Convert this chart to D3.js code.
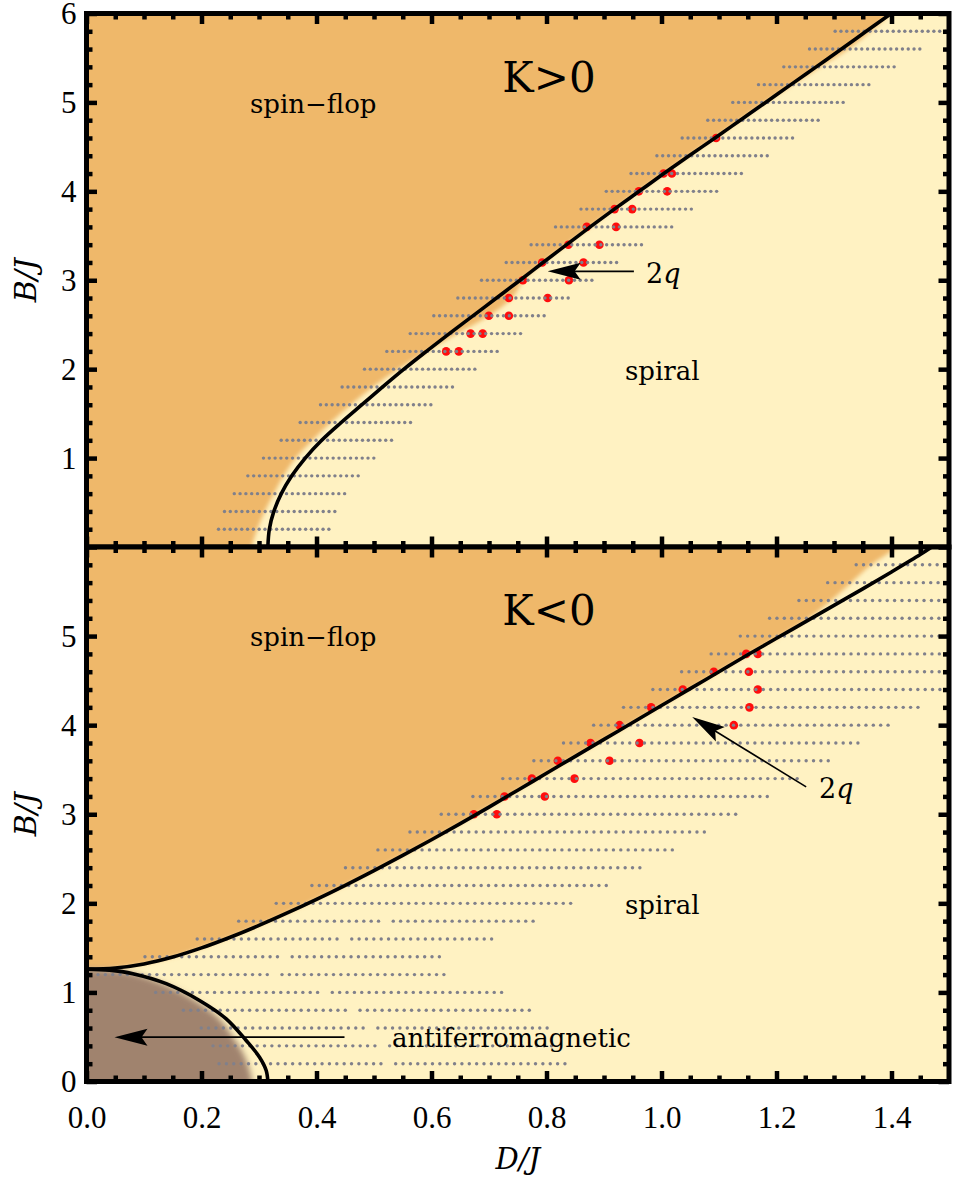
<!DOCTYPE html>
<html>
<head>
<meta charset="utf-8">
<script src="https://cdn.jsdelivr.net/npm/d3@7"></script>
<style>
  body { margin: 0; background: #fff; }
</style>
</head>
<body>
<div id="chart"></div>
<script>
// ---- K>0 panel ----
// phase boundary (black curve)  [D/J, B/J]
var topLine = [[0.3154,0],[0.318,0.2],[0.3258,0.4],[0.3388,0.6],[0.357,0.8],[0.3804,1.0],[0.409,1.2],
  [0.443,1.4],[0.479,1.6],[0.515,1.8],[0.552,2.0],[0.591,2.2],[0.631,2.4],[0.672,2.6],[0.713,2.8],
  [0.754,3.0],[0.794,3.2],[0.835,3.4],[0.876,3.6],[0.918,3.8],[0.961,4.0],[1.004,4.2],[1.048,4.4],
  [1.093,4.6],[1.137,4.8],[1.181,5.0],[1.225,5.2],[1.269,5.4],[1.313,5.6],[1.356,5.8],[1.3995,6.0]];
// edge of the spin-flop colour region
var topEdge = [[0.287,0],[0.297,0.2],[0.31,0.4],[0.326,0.6],[0.343,0.8],[0.364,1.0],[0.393,1.2],
  [0.425,1.4],[0.46,1.6],[0.498,1.8],[0.542,2.0],[0.592,2.2],[0.645,2.4],[0.700,2.6],[0.740,2.8],
  [0.760,3.0],[0.794,3.2],[0.835,3.4],[0.876,3.6],[0.918,3.8],[0.961,4.0],[1.004,4.2],[1.048,4.4],
  [1.093,4.6],[1.137,4.8],[1.181,5.0],[1.228,5.2],[1.276,5.4],[1.325,5.6],[1.364,5.8],[1.3995,6.0]];
// scanned rows  [B/J, first D/J, last D/J]
var topRows = [[0.2,0.2296,0.4214],[0.4,0.240,0.433],[0.6,0.257,0.450],[0.8,0.2806,0.4736],
  [1.0,0.3078,0.5003],[1.2,0.3386,0.5316],[1.4,0.3716,0.5646],[1.6,0.407,0.6005],[1.8,0.4446,0.637],
  [2.0,0.4835,0.676],[2.2,0.5223,0.7143],[2.4,0.563,0.756],[2.6,0.604,0.7965],[2.8,0.6458,0.8388],
  [3.0,0.687,0.880],[3.2,0.73,0.924],[3.4,0.7733,0.9658],[3.6,0.8157,1.0197],[3.8,0.860,1.053],
  [4.0,0.904,1.097],[4.2,0.947,1.14],[4.4,0.992,1.185],[4.6,1.036,1.228],[4.8,1.0805,1.2736],
  [5.0,1.124,1.317],[5.2,1.1687,1.3617],[5.4,1.2127,1.405],[5.6,1.2574,1.4516],[5.8,1.302,1.495]];
// 2q points  [D/J, B/J]
var topRed = [[0.6255,2.2],[0.6475,2.2],[0.668,2.4],[0.689,2.4],[0.6997,2.6],[0.7345,2.6],
  [0.7345,2.8],[0.802,2.8],[0.759,3.0],[0.839,3.0],[0.7925,3.2],[0.8643,3.2],[0.838,3.4],[0.892,3.4],
  [0.870,3.6],[0.921,3.6],[0.9183,3.8],[0.949,3.8],[0.9606,4.0],[1.0099,4.0],[1.0035,4.2],[1.018,4.2],
  [1.095,4.6]];

// ---- K<0 panel ----
var botLine = [[0,1.262],[0.05,1.2745],[0.10,1.3195],[0.15,1.397],[0.20,1.4995],[0.25,1.6195],
  [0.30,1.752],[0.35,1.8945],[0.40,2.0445],[0.45,2.202],[0.50,2.367],[0.55,2.538],[0.60,2.714],
  [0.65,2.894],[0.70,3.08],[0.75,3.27],[0.80,3.46],[0.85,3.65],[0.90,3.84],[0.95,4.03],[1.00,4.22],
  [1.05,4.41],[1.10,4.60],[1.15,4.79],[1.20,4.975],[1.25,5.16],[1.30,5.345],[1.35,5.53],[1.40,5.72],
  [1.45,5.915],[1.47,6.0]];
var botAfmLine = [[0,1.262],[0.04,1.25],[0.0806,1.21],[0.1386,1.098],[0.1965,0.91],[0.243,0.704],
  [0.2777,0.46],[0.3009,0.273],[0.3125,0.124],[0.3154,0]];
var botEdge = [[0,1.262],[0.05,1.2745],[0.10,1.3195],[0.15,1.397],[0.20,1.4995],[0.25,1.6195],
  [0.30,1.752],[0.35,1.8945],[0.40,2.0445],[0.45,2.202],[0.50,2.367],[0.55,2.538],[0.60,2.714],
  [0.65,2.894],[0.70,3.08],[0.75,3.27],[0.80,3.46],[0.85,3.65],[0.90,3.84],[0.95,4.03],[1.00,4.22],
  [1.05,4.41],[1.10,4.60],[1.15,4.79],[1.20,4.975],[1.25,5.17],[1.295,5.4],[1.33,5.6],[1.365,5.8],
  [1.41,6.0]];
var botAfmEdge = [[0,1.262],[0.06,1.24],[0.1,1.18],[0.14,1.08],[0.19,0.91],[0.232,0.70],
  [0.257,0.48],[0.276,0.27],[0.288,0]];
var botRows = [[0.2,0.2305,0.8334],[0.4,0.22,0.815],[0.6,0.1995,0.801],[0.8,0.1685,0.7687],
  [1.0,0.1203,0.7207],[1.2,0.02,0.627],[1.4,0.1017,0.619],[1.6,0.1925,0.7083],[1.8,0.2647,0.7805],
  [2.0,0.330,0.846],[2.2,0.392,0.9078],[2.4,0.4504,0.966],[2.6,0.5068,1.0247],[2.8,0.5625,1.077],
  [3.0,0.617,1.1316],[3.2,0.672,1.185],[3.4,0.724,1.238],[3.6,0.778,1.291],[3.8,0.8296,1.343],
  [4.0,0.882,1.3965],[4.2,0.934,1.447],[4.4,0.985,1.486],[4.6,1.035,1.495],[4.8,1.0864,1.495],
  [5.0,1.137,1.495],[5.2,1.188,1.495],[5.4,1.239,1.495],[5.6,1.289,1.495],[5.8,1.3386,1.495]];
// missing scan points  [B/J, D/J]
var botGaps = [[0.2,0.5296],[0.4,0.516],[0.6,0.495],[0.8,0.4677],[1.0,0.4195],[1.2,0.3267],
  [1.4,0.351],[1.6,0.4435],[1.8,0.516]];
var botRed = [[0.6736,3.0],[0.7136,3.0],[0.727,3.2],[0.797,3.2],[0.7745,3.4],[0.8487,3.4],
  [0.8197,3.6],[0.9096,3.6],[0.8765,3.8],[0.9617,3.8],[0.927,4.0],[1.1258,4.0],[0.982,4.2],[1.153,4.2],
  [1.037,4.4],[1.1675,4.4],[1.091,4.6],[1.152,4.6],[1.1473,4.8],[1.1675,4.8]];

// ticks
var xTicks = [0, 0.2, 0.4, 0.6, 0.8, 1.0, 1.2, 1.4];
var xTickLabels = ["0.0", "0.2", "0.4", "0.6", "0.8", "1.0", "1.2", "1.4"];
var topYLabels = [1, 2, 3, 4, 5, 6];
var botYLabels = [0, 1, 2, 3, 4, 5];

var topStep = 0.0101, botStep = 0.0128;

var width = 953, height = 1196;
var svg = d3.select("#chart").append("svg")
    .attr("width", width)
    .attr("height", height);

var x = d3.scaleLinear().domain([0, 1.5]).range([86.5, 949]);
var yTop = d3.scaleLinear().domain([0, 6]).range([547, 13.5]);
var yBot = d3.scaleLinear().domain([0, 6]).range([1081.5, 547]);

var colOrange = "#efb86b", colLight = "#fff2c2", colBrown = "#a0836e", colDot = "#80808b";

var defs = svg.append("defs");
defs.append("filter").attr("id", "soft")
    .attr("x", "-10%").attr("y", "-10%").attr("width", "120%").attr("height", "120%")
  .append("feGaussianBlur").attr("stdDeviation", 2.2);
defs.append("filter").attr("id", "softer")
    .attr("x", "-10%").attr("y", "-10%").attr("width", "120%").attr("height", "120%")
  .append("feGaussianBlur").attr("stdDeviation", 3.2);
[["clipTop", yTop], ["clipBot", yBot]].forEach(function(c) {
  defs.append("clipPath").attr("id", c[0]).append("rect")
      .attr("x", x(0)).attr("y", c[1](6))
      .attr("width", x(1.5) - x(0)).attr("height", c[1](0) - c[1](6));
});

// closed region: a smooth edge then straight corners
function region(y, edge, corners) {
  var l = d3.line().x(function(d) { return x(d[0]); }).y(function(d) { return y(d[1]); })
      .curve(d3.curveCatmullRom.alpha(0.5));
  var s = l(edge);
  corners.forEach(function(c) { s += "L" + x(c[0]) + "," + y(c[1]); });
  return s + "Z";
}

function rowDots(rows, step, gaps) {
  var pts = [];
  rows.forEach(function(r) {
    var gap = gaps ? gaps.filter(function(g) { return g[0] === r[0]; })[0] : null;
    d3.range(r[1], r[2] + step / 2, step).forEach(function(d) {
      if (gap && Math.abs(d - gap[1]) < step / 2) return;
      pts.push([d, r[0]]);
    });
  });
  return pts;
}

function arrow(g, x1, y1, x2, y2) {
  var ang = Math.atan2(y2 - y1, x2 - x1), len = Math.hypot(x2 - x1, y2 - y1);
  var a = g.append("g")
      .attr("transform", "translate(" + x2 + "," + y2 + ") rotate(" + (ang * 180 / Math.PI) + ")");
  a.append("line").attr("x1", -len).attr("y1", 0).attr("x2", -26).attr("y2", 0)
      .attr("stroke", "#000").attr("stroke-width", 1.6);
  a.append("path").attr("d", "M0,0L-33,-8.5L-27,0L-33,8.5Z").attr("fill", "#000");
}

var curve = d3.line().curve(d3.curveCatmullRom.alpha(0.5));

function panel(y, clipId, o) {
  var g = svg.append("g");
  var bg = g.append("g").attr("clip-path", "url(#" + clipId + ")");
  bg.append("rect")
      .attr("x", x(0)).attr("y", y(6))
      .attr("width", x(1.5) - x(0)).attr("height", y(0) - y(6))
      .attr("fill", colLight);
  o.regions.forEach(function(r) {
    bg.append("path").attr("d", region(y, r.edge, r.corners))
        .attr("fill", r.fill).attr("filter", "url(#" + r.blur + ")");
  });

  // 2q points sit under the scan grid
  var marks = g.append("g").attr("clip-path", "url(#" + clipId + ")");
  marks.selectAll(".red").data(o.red).enter().append("circle")
      .attr("cx", function(d) { return x(d[0]); })
      .attr("cy", function(d) { return y(d[1]); })
      .attr("r", 4.3).attr("fill", "#ff0d0d");
  marks.selectAll(".dot").data(rowDots(o.rows, o.step, o.gaps)).enter().append("circle")
      .attr("cx", function(d) { return x(d[0]); })
      .attr("cy", function(d) { return y(d[1]); })
      .attr("r", 1.7).attr("fill", colDot);

  o.lines.forEach(function(ln) {
    marks.append("path")
        .attr("d", curve.x(function(d) { return x(d[0]); }).y(function(d) { return y(d[1]); })(ln))
        .attr("fill", "none").attr("stroke", "#000").attr("stroke-width", 3.6);
  });

  // ticks on all four sides, pointing inward
  var minorX = d3.range(0.05, 1.5, 0.05).filter(function(v) { return Math.abs(v * 5 - Math.round(v * 5)) > 1e-6; });
  var minorY = d3.range(0.2, 6, 0.2).filter(function(v) { return Math.abs(v - Math.round(v)) > 1e-6; });
  var majorY = d3.range(0, 7);
  function ax(gen, scale, vals, size, tr, fmt) {
    var a = g.append("g").attr("transform", tr)
        .call(gen(scale).tickValues(vals).tickSize(size).tickPadding(10).tickFormat(fmt || ""));
    a.select(".domain").remove();
    a.selectAll(".tick line").attr("stroke", "#000").attr("stroke-width", 4.5);
    return a;
  }
  ax(d3.axisBottom, x, xTicks, -10.5, "translate(0," + y(0) + ")");
  ax(d3.axisBottom, x, minorX, -6, "translate(0," + y(0) + ")");
  ax(d3.axisTop, x, xTicks, -10.5, "translate(0," + y(6) + ")");
  ax(d3.axisTop, x, minorX, -6, "translate(0," + y(6) + ")");
  ax(d3.axisRight, y, majorY, -10.5, "translate(" + x(1.5) + ",0)");
  ax(d3.axisRight, y, minorY, -6, "translate(" + x(1.5) + ",0)");
  ax(d3.axisLeft, y, minorY, -6, "translate(" + x(0) + ",0)");
  var left = ax(d3.axisLeft, y, majorY, -10.5, "translate(" + x(0) + ",0)",
      function(d) { return o.yLabels.indexOf(d) >= 0 ? d : ""; });
  left.selectAll("text")
      .attr("font-family", "'Liberation Serif', serif").attr("font-size", 31).attr("fill", "#000");

  // frame
  g.append("rect")
      .attr("x", x(0)).attr("y", y(6))
      .attr("width", x(1.5) - x(0)).attr("height", y(0) - y(6))
      .attr("fill", "none").attr("stroke", "#000").attr("stroke-width", 5);

  // y axis title
  g.append("text")
      .attr("transform", "translate(36," + ((y(0) + y(6)) / 2) + ") rotate(-90)")
      .attr("text-anchor", "middle")
      .attr("font-family", "'DejaVu Serif', serif").attr("font-style", "italic")
      .attr("font-size", 30).text("B/J");
  return g;
}

var gTop = panel(yTop, "clipTop", {
  regions: [{
    fill: colOrange, blur: "soft",
    edge: [[topEdge[0][0] - 0.01, -0.3]].concat(topEdge, [[1.508, 6.5]]),
    corners: [[-0.2, 6.5], [-0.2, -0.3]]
  }],
  lines: [topLine],
  rows: topRows, step: topStep, red: topRed,
  yLabels: topYLabels
});

var gBot = panel(yBot, "clipBot", {
  regions: [{
    fill: colOrange, blur: "soft",
    edge: [[-0.2, botEdge[0][1]]].concat(botEdge, [[1.5, 6.5]]),
    corners: [[-0.2, 6.5]]
  }, {
    fill: colBrown, blur: "softer",
    edge: [[-0.2, botAfmEdge[0][1]]].concat(botAfmEdge, [[0.29, -0.3]]),
    corners: [[-0.2, -0.3]]
  }],
  lines: [botLine, botAfmLine],
  rows: botRows, step: botStep, gaps: botGaps, red: botRed,
  yLabels: botYLabels
});

// x tick labels under the lower panel
var xl = svg.append("g").attr("transform", "translate(0," + yBot(0) + ")")
    .call(d3.axisBottom(x).tickValues(xTicks).tickSize(0).tickPadding(24)
      .tickFormat(function(d, i) { return xTickLabels[i]; }));
xl.select(".domain").remove();
xl.selectAll("text")
    .attr("font-family", "'Liberation Serif', serif").attr("font-size", 31).attr("fill", "#000");

svg.append("text")
    .attr("x", x(0.75)).attr("y", 1169)
    .attr("text-anchor", "middle")
    .attr("font-family", "'DejaVu Serif', serif").attr("font-style", "italic")
    .attr("font-size", 29).text("D/J");

// labels
var serif = "'DejaVu Serif', serif";
function label(g, px, py, txt, size, anchor) {
  return g.append("text").attr("x", px).attr("y", py)
      .attr("text-anchor", anchor || "start")
      .attr("font-family", serif).attr("font-size", size).attr("fill", "#000")
      .text(txt);
}
function twoQ(g, px, py) {
  var t = g.append("text").attr("x", px).attr("y", py)
      .attr("font-family", serif).attr("font-size", 27).attr("fill", "#000");
  t.append("tspan").text("2");
  t.append("tspan").attr("font-style", "italic").text("q");
}

label(gTop, 549, 92, "K>0", 42, "middle");
label(gTop, 250, 113, "spin\u2212flop", 26);
label(gTop, 625, 380, "spiral", 26);
twoQ(gTop, 646, 283);
arrow(gTop, x(0.952), yTop(3.1), x(0.802), yTop(3.1));

label(gBot, 549, 625, "K<0", 42, "middle");
label(gBot, 250, 646, "spin\u2212flop", 26);
label(gBot, 625, 914, "spiral", 26);
twoQ(gBot, 819, 798);
arrow(gBot, x(1.2516), yBot(3.307), x(1.0534), yBot(4.093));
label(gBot, 392, 1047, "antiferromagnetic", 26);
arrow(gBot, x(0.4487), yBot(0.498), x(0.0487), yBot(0.498));
</script>
</body>
</html>
